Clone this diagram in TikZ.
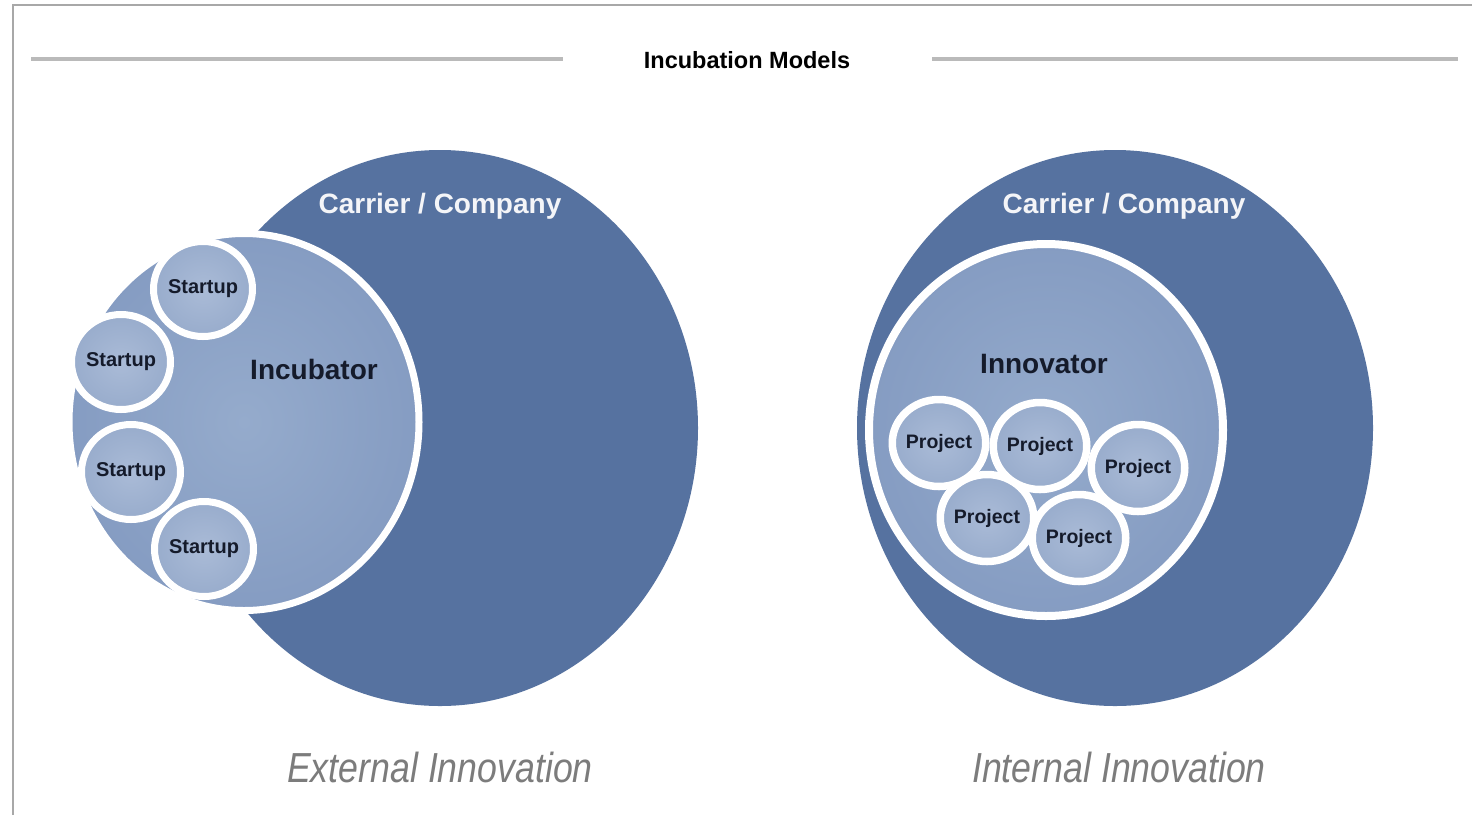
\documentclass[tikz,border=0pt]{standalone}
\usepackage{fontspec}
\setmainfont{Liberation Sans}
\usetikzlibrary{shapes.geometric}
\definecolor{darkblue}{HTML}{5672A0}
\definecolor{midin}{HTML}{95ABCC}
\definecolor{midout}{HTML}{859CC2}
\definecolor{smallin}{HTML}{AABBD7}
\definecolor{smallout}{HTML}{98ACCC}
\definecolor{inktext}{HTML}{151B2B}
\definecolor{framegray}{HTML}{A8A8A8}
\definecolor{rulegray}{HTML}{BABABA}
\definecolor{captiongray}{HTML}{7C7C7C}
\definecolor{carriertext}{HTML}{F4F5F8}
\begin{document}
\begin{tikzpicture}[x=1pt,y=-1pt,
  bigc/.style={ellipse, fill=darkblue, draw=none, minimum width=516pt, minimum height=556pt, inner sep=0pt},
  midc/.style={ellipse, draw=white, line width=7pt, inner color=midin, outer color=midout, inner sep=0pt},
  smallc/.style={ellipse, draw=white, line width=7pt, inner color=smallin, outer color=smallout, inner sep=0pt,
     text=inktext, font=\bfseries\fontsize{20}{22}\selectfont},
  projc/.style={smallc, line width=7.5pt, minimum width=84pt, minimum height=87pt, font=\bfseries\fontsize{19.5}{22}\selectfont},
  startc/.style={smallc, minimum width=90pt, minimum height=95pt},
  titletext/.style={font=\bfseries\fontsize{23.5}{26}\selectfont, text=black, inner sep=0pt},
  carriertxt/.style={font=\bfseries\fontsize{28}{32}\selectfont, text=carriertext, inner sep=0pt},
  innertitle/.style={font=\bfseries\fontsize{28}{32}\selectfont, text=inktext, inner sep=0pt},
  caption/.style={font=\itshape\fontsize{42}{46}\selectfont, text=captiongray, inner sep=0pt, xscale=0.85},
  rule/.style={rulegray, line width=4pt},
  framerule/.style={framegray, line width=2pt}
]
\useasboundingbox (0,0) rectangle (1472,815);
\fill[white] (0,0) rectangle (1472,815);

% frame
\coordinate (fbl) at (13,815);
\coordinate (ftl) at (13,5);
\coordinate (ftr) at (1472,5);
\draw[framerule] (fbl) -- (ftl) -- (ftr);

% title and rules
\node[titletext] (title) at (747,60) {Incubation Models};
\coordinate (rl1) at (31,59);
\coordinate (rl2) at (563,59);
\coordinate (rr1) at (932,59);
\coordinate (rr2) at (1458,59);
\draw[rule] (rl1) -- (rl2);
\draw[rule] (rr1) -- (rr2);

% left model
\node[bigc] (carL) at (440,428) {};
\node[carriertxt] (carLt) at (440,206) {Carrier / Company};
\node[midc, minimum width=350pt, minimum height=377pt] (incub) at (244,422) {};
\node[innertitle] (incubt) at (314,369) {Incubator};
\node[startc] (s1) at (203,289) {Startup};
\node[startc] (s2) at (121,362) {Startup};
\node[startc] (s3) at (131,472) {Startup};
\node[startc] (s4) at (204,549) {Startup};
\node[caption] (ext) at (440,767) {External Innovation};

% right model
\node[bigc] (carR) at (1115,428) {};
\node[carriertxt] (carRt) at (1124,206) {Carrier / Company};
\node[midc, line width=8pt, minimum width=354pt, minimum height=372pt] (innov) at (1046,430) {};
\node[innertitle] (innovt) at (1044,364) {Innovator};
\node[projc] (p1) at (939,443) {Project};
\node[projc] (p2) at (1040,446) {Project};
\node[projc] (p3) at (1138,468) {Project};
\node[projc] (p4) at (987,518) {Project};
\node[projc] (p5) at (1079,538) {Project};
\node[caption] (int) at (1119,767) {Internal Innovation};
\end{tikzpicture}
\end{document}
